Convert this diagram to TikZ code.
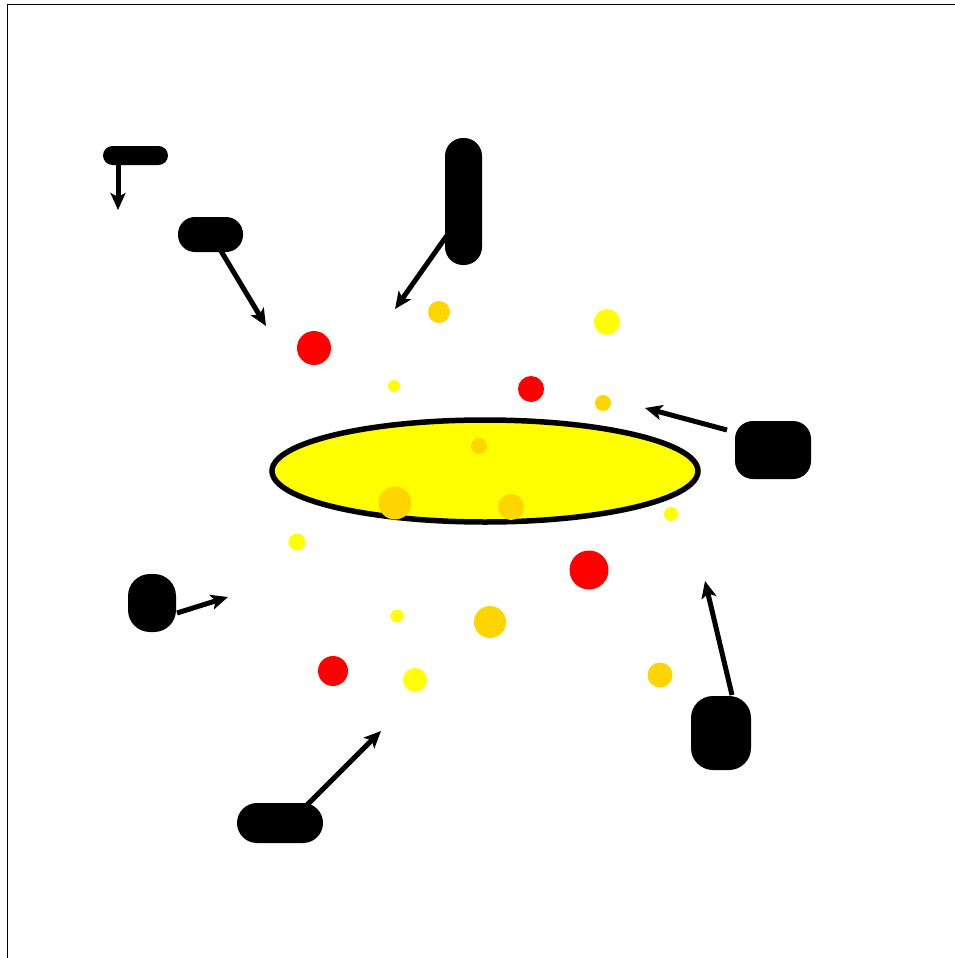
\documentclass[tikz,border=0pt]{standalone}
\usetikzlibrary{arrows.meta}
\definecolor{goldc}{RGB}{255,213,0}
\definecolor{yelc}{RGB}{255,255,0}
\definecolor{redc}{RGB}{255,0,0}
\begin{document}
\begin{tikzpicture}[x=1pt,y=-1pt,
  blk/.style={fill=black,draw=none,inner sep=0pt,rounded corners=#1},
  blk/.default=10pt,
  arr/.style={line width=5pt,-{Stealth[length=17pt,width=15pt,inset=4pt]}},
  dot/.style={fill=#1,draw=none}]
\useasboundingbox (0,0) rectangle (954,958);
\draw[line width=1.3pt] (7.5,965) -- (7.5,4.5) -- (965,4.5);

% ellipse
\draw[fill=yelc,line width=5.5pt] (485,471) ellipse [x radius=213, y radius=51];

% black shapes
\node[blk=9.5pt,minimum width=65pt,minimum height=19pt] (n1) at (135.5,155.5) {};
\node[blk=17pt,minimum width=65pt,minimum height=35pt] (n2) at (210.5,234.5) {};
\node[blk=18pt,minimum width=37pt,minimum height=127pt] (n3) at (463.5,201.5) {};
\node[blk=18pt,minimum width=76pt,minimum height=58pt] (n4) at (773,450) {};
\node[blk=22pt,minimum width=48pt,minimum height=58pt] (n5) at (152,603) {};
\node[blk=22pt,minimum width=60pt,minimum height=74pt] (n6) at (721,733) {};
\node[blk=20pt,minimum width=86pt,minimum height=40pt] (n7) at (280,823) {};

% arrow ends
\coordinate (s1) at (118,164);  \coordinate (t1) at (118,210);
\coordinate (s2) at (221,251);  \coordinate (t2) at (266,326);
\coordinate (s3) at (448,234);  \coordinate (t3) at (395,309);
\coordinate (s4) at (727,430);  \coordinate (t4) at (645,408);
\coordinate (s5) at (177,613);  \coordinate (t5) at (228,597);
\coordinate (s6) at (732,695);  \coordinate (t6) at (705,581);
\coordinate (s7) at (306,806);  \coordinate (t7) at (381,731);
\foreach \i in {1,...,7} {\draw[arr] (s\i) -- (t\i);}

% dots
\fill[redc] (314,348) circle (17);
\fill[goldc] (439,312) circle (11);
\fill[yelc] (607,322) circle (13);
\fill[yelc] (394,386) circle (6);
\fill[redc] (531,389) circle (13);
\fill[goldc] (603,403) circle (8);
\fill[goldc] (479,446) circle (8);
\fill[goldc] (395,503) circle (16.5);
\fill[goldc] (511,507) circle (13);
\fill[yelc] (671,514) circle (7);
\fill[yelc] (297,542) circle (8.5);
\fill[redc] (589,570) circle (19.5);
\fill[yelc] (397,616) circle (6.5);
\fill[goldc] (490,622) circle (16);
\fill[redc] (333,671) circle (15);
\fill[yelc] (415,680) circle (12);
\fill[goldc] (660,675) circle (12.5);
\end{tikzpicture}
\end{document}
